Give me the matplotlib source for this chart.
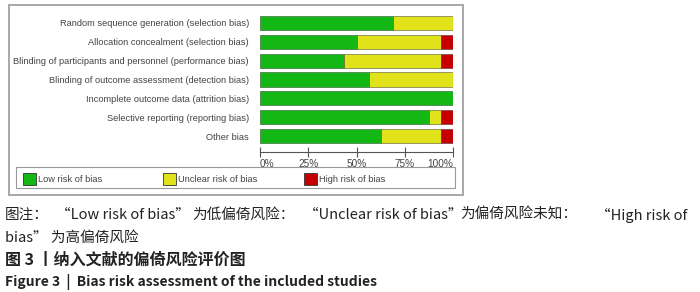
import numpy as np
import matplotlib
matplotlib.use('Agg')
import matplotlib.pyplot as plt
from matplotlib.patches import Rectangle

# data (percent of 16 studies)
domains = ['Random sequence generation (selection bias)',
           'Allocation concealment (selection bias)',
           'Blinding of participants and personnel (performance bias)',
           'Blinding of outcome assessment (detection bias)',
           'Incomplete outcome data (attrition bias)',
           'Selective reporting (reporting bias)',
           'Other bias']
low = [68.75, 50, 43.75, 56.25, 100, 87.5, 62.5]
unclear = [31.25, 43.75, 50, 43.75, 0, 6.25, 31.25]
high = [0, 6.25, 6.25, 0, 0, 6.25, 6.25]
tick_vals = [0, 25, 50, 75, 100]
tick_labels = ['0%', '25%', '50%', '75%', '100%']
legend_labels = ['Low risk of bias', 'Unclear risk of bias', 'High risk of bias']

c_low = '#14b814'
c_unc = '#e2e21a'
c_high = '#c40000'
txt = '#444444'
lat = 'Liberation Sans'
fs_small = 6.7

W, H = 700, 292
fig = plt.figure(figsize=(W / 100, H / 100), dpi=100)

def fx(px):
    return px / W

def fy(py):
    return 1 - py / H

# outer frame and legend box
fig.patches.append(Rectangle((fx(9), fy(195)), fx(454), 190 / H, transform=fig.transFigure,
                             facecolor='none', edgecolor='#999999', lw=1.2, zorder=-1))
fig.patches.append(Rectangle((fx(16), fy(188)), fx(439), 21 / H, transform=fig.transFigure,
                             facecolor='none', edgecolor='#999999', lw=0.8, zorder=-1))

ax = fig.add_axes([fx(260), fy(145.5), fx(193), 132 / H])
for s in ['top', 'right', 'left']:
    ax.spines[s].set_visible(False)
ax.spines['bottom'].set_position(('outward', 4.5))
ax.spines['bottom'].set_color('#555555')
ax.spines['bottom'].set_linewidth(0.8)
ax.set_facecolor('none')

y = np.arange(len(domains))
left2 = np.array(low) + np.array(unclear)
ax.barh(y, low, height=0.75, color=c_low, edgecolor='#335533', lw=0.4)
ax.barh(y, unclear, left=low, height=0.75, color=c_unc, edgecolor='#555533', lw=0.4)
ax.barh(y, high, left=left2, height=0.75, color=c_high, edgecolor='#553333', lw=0.4)
ax.set_ylim(6.5, -0.5)
ax.set_xlim(0, 100)
ax.set_yticks(y)
ax.set_yticklabels(domains, fontsize=fs_small, color=txt, family=lat)
ax.tick_params(axis='y', length=0, pad=8)
ax.set_xticks(tick_vals)
ax.set_xticklabels(tick_labels, fontsize=7.2, color=txt, family=lat)
ax.tick_params(axis='x', direction='inout', length=7, width=0.8, color='#555555', pad=1.5)
xl = ax.get_xticklabels()
xl[0].set_ha('left')
xl[-1].set_ha('right')

# legend
for lab, col, x0 in zip(legend_labels, [c_low, c_unc, c_high], [23, 163, 304]):
    fig.patches.append(Rectangle((fx(x0), fy(185)), fx(13), 12 / H, transform=fig.transFigure,
                                 facecolor=col, edgecolor='#333333', lw=0.6))
    fig.text(fx(x0 + 15), fy(179), lab, fontsize=fs_small, color=txt, va='center', family=lat)

# caption
cjk = ['Noto Sans CJK SC', 'DejaVu Sans']
cap = '#222222'
line1 = [(5, '图注：'), (56, '\u201cLow risk of bias\u201d'), (192, '为低偏倚风险：'),
         (304, '\u201cUnclear risk of bias\u201d'), (460, '为偏倚风险未知：'), (596, '\u201cHigh risk of')]
for x0, s in line1:
    fig.text(fx(x0), fy(215), s, fontsize=10.5, family=cjk, va='center', color=cap)
fig.text(fx(5), fy(238), 'bias\u201d 为高偏倚风险', fontsize=10.5, family=cjk, va='center', color=cap)
fig.text(fx(5), fy(260), '图 3 丨纳入文献的偏倚风险评价图', fontsize=11.5, family=cjk, va='center',
         color=cap, weight='bold')
fig.text(fx(5), fy(282), 'Figure 3  |  Bias risk assessment of the included studies', fontsize=10,
         family=cjk, va='center', color=cap, weight='bold')

fig.savefig('out.png', dpi=100)
